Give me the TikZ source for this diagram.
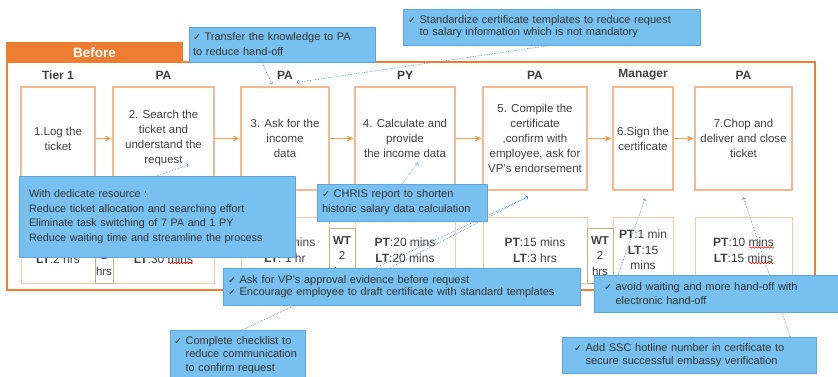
\documentclass[tikz,border=0pt]{standalone}
\usepackage{fontspec}
\setmainfont{Liberation Sans}
\newfontfamily\notefont{Liberation Sans}[WordSpace=2.0]
\newfontfamily\symfont{DejaVu Sans}
\usepackage{tikz}
\usetikzlibrary{arrows,backgrounds,decorations.pathmorphing}

\definecolor{orangeline}{RGB}{237,125,49}
\definecolor{arrowline}{RGB}{243,160,90}
\definecolor{boxline}{RGB}{245,185,145}
\definecolor{timeline}{RGB}{248,203,173}
\definecolor{waitline}{RGB}{205,175,135}
\definecolor{notefill}{RGB}{120,192,240}
\definecolor{noteline}{RGB}{95,165,220}
\definecolor{hintline}{RGB}{60,125,185}
\definecolor{inkgray}{RGB}{64,64,64}

\newcommand{\chk}{{\symfont\fontsize{9.5}{9.5}\selectfont ✓}\ }
\newcommand{\ind}{\phantom{\chk}}

\begin{document}
\begin{tikzpicture}[x=1pt,y=1pt,>=stealth',node distance=63.5pt,
                    every node/.style={text=inkgray}]
  \tikzstyle{stage}=[draw=boxline,line width=1.4pt,align=center,minimum height=103pt,
                     inner sep=1pt,font=\fontsize{11.5}{15}\selectfont]
  \tikzstyle{role}=[font=\bfseries\fontsize{12}{14}\selectfont]
  \tikzstyle{timing}=[draw=timeline,line width=0.8pt,align=center,minimum height=66pt,
                      inner sep=1pt,font=\fontsize{12}{15.5}\selectfont]
  \tikzstyle{wait}=[draw=waitline,fill=white,line width=0.6pt,align=center,minimum height=55pt,
                    inner sep=0pt,font=\fontsize{11.5}{15.5}\selectfont]
  \tikzstyle{note}=[fill=notefill,draw=noteline,line width=0.4pt,align=left,inner xsep=8pt,
                    inner ysep=2pt,text=black!80]
  \tikzstyle{flow}=[->,draw=arrowline,line width=1.1pt,shorten >=1pt]
  \tikzstyle{hint}=[->,>=to,draw=hintline,densely dotted,semithick]
  \tikzstyle{typo}=[draw=red,line width=0.5pt,decorate,decoration={snake,amplitude=0.7pt,segment length=3pt}]

  \useasboundingbox (0,0) rectangle (838,-377);

  \draw[draw=orangeline,line width=2.5pt] (7,-62) rectangle (815,-290);
  \node[fill=orangeline,text=white,minimum width=177pt,minimum height=21pt,
        font=\bfseries\fontsize{13.5}{15}\selectfont] (Before) at (94.5,-52.5) {Before};

  \node[stage,minimum width=74pt]  (S1) at (58,-138.5)    {1.Log the\\ticket};
  \node[stage,minimum width=101pt] (S2) at (163.5,-138.5) {2. Search the\\ticket and\\understand the\\request};
  \node[stage,minimum width=88pt]  (S3) at (285,-138.5)   {3. Ask for the\\income\\data};
  \node[stage,minimum width=100pt] (S4) at (405,-138.5)   {4. Calculate and\\provide\\the income data};
  \node[stage,minimum width=104pt] (S5) at (535,-138.5)   {5. Compile the\\certificate\\,confirm with\\employee, ask for\\VP's endorsement};
  \node[stage,minimum width=60pt]  (S6) at (643,-138.5)   {6.Sign the\\certificate};
  \node[stage,minimum width=97pt]  (S7) at (743.5,-138.5) {7.Chop and\\deliver and close\\ticket};

  \node[role] (R1) [above of=S1] {Tier 1};
  \node[role] (R2) [above of=S2] {PA};
  \node[role] (R3) [above of=S3] {PA};
  \node[role] (R4) [above of=S4] {PY};
  \node[role] (R5) [above of=S5] {PA};
  \node[role] (R6) [above of=S6] {Manager};
  \node[role] (R7) [above of=S7] {PA};

  \node[timing,minimum width=74pt,node distance=111.5pt]  (T1) [below of=S1] {\strut\\\textbf{LT}:2 hrs};
  \node[timing,minimum width=101pt,node distance=111.5pt] (T2) [below of=S2] {\strut\\\textbf{LT}:30 mins};
  \node[timing,minimum width=88pt,node distance=111.5pt]  (T3) [below of=S3] {\textbf{PT}:30 mins\\\textbf{LT}: 1 hr};
  \node[timing,minimum width=100pt,node distance=111.5pt] (T4) [below of=S4] {\textbf{PT}:20 mins\\\textbf{LT}:20 mins};
  \node[timing,minimum width=104pt,node distance=111.5pt] (T5) [below of=S5] {\textbf{PT}:15 mins\\\textbf{LT}:3 hrs};
  \node[timing,minimum width=60pt,node distance=111.5pt]  (T6) [below of=S6] {\textbf{PT}:1 min\\\textbf{LT}:15\\mins};
  \node[timing,minimum width=97pt,node distance=111.5pt]  (T7) [below of=S7] {\textbf{PT}:10 mins\\\textbf{LT}:15 mins};

  \draw[typo] ([shift={(4.5pt,-13pt)}]T2.center) -- ++(25pt,0);
  \draw[typo] ([shift={(5.5pt,2.5pt)}]T7.center) -- ++(25pt,0);
  \draw[typo] ([shift={(5.5pt,-13pt)}]T7.center) -- ++(25pt,0);

  \node[wait,minimum width=18pt] (W1) at (104,-256) {\textbf{WT}\\2\\hrs};
  \node[wait,minimum width=26pt] (W2) at (342,-256) {\textbf{WT}\\2\\hrs};
  \node[wait,minimum width=26pt] (W3) at (600,-256) {\textbf{WT}\\2\\hrs};

  \path[flow] (S1) edge (S2)
              (S2) edge (S3)
              (S3) edge (S4)
              (S4) edge (S5)
              (S5) edge (S6)
              (S6) edge (S7);

  \node[note,text width=178pt,minimum height=35pt,font=\notefont\fontsize{11}{15}\selectfont,inner xsep=4pt]
    (transfer) at (282,-44.5) {\chk Transfer the knowledge to PA\\to reduce hand-off};
  \node[note,text width=287pt,minimum height=36pt,font=\notefont\fontsize{11}{12}\selectfont,inner xsep=5pt]
    (template) at (551.5,-27) {\chk Standardize certificate templates to reduce request\\\ind to salary information which is not mandatory};
  \node[note,text width=256pt,minimum height=81pt,font=\notefont\fontsize{10.8}{14.5}\selectfont,inner xsep=10pt]
    (dedicate) at (157,-216.5) {With dedicate resource :\\Reduce ticket allocation and searching effort\\Eliminate task switching of 7 PA and 1 PY\\Reduce waiting time and streamline the process};
  \node[note,text width=160pt,minimum height=37pt,font=\notefont\fontsize{11}{15}\selectfont,inner xsep=5pt]
    (chris) at (402,-202.5) {\chk CHRIS report to shorten\\historic salary data calculation};
  \node[note,text width=347pt,minimum height=37pt,font=\notefont\fontsize{11}{12}\selectfont,inner xsep=5pt]
    (approval) at (401.5,-286.5) {\chk Ask for VP's approval evidence before request\\\chk Encourage employee to draft certificate with standard templates};
  \node[note,text width=127pt,minimum height=50pt,font=\notefont\fontsize{11}{13.5}\selectfont,inner xsep=4pt]
    (checklist) at (237.5,-355) {\chk Complete checklist to\\\ind reduce communication\\\ind to confirm request};
  \node[note,text width=226pt,minimum height=37pt,font=\notefont\fontsize{11}{14.5}\selectfont,inner xsep=10pt]
    (electronic) at (717,-293.5) {\chk avoid waiting and more hand-off with\\\ind electronic hand-off};
  \node[note,text width=230pt,minimum height=36pt,font=\notefont\fontsize{11}{13}\selectfont,inner xsep=12pt]
    (hotline) at (689,-355) {\chk Add SSC hotline number in certificate to\\\ind secure successful embassy verification};

  \begin{scope}[on background layer]
    \path[hint] ([xshift=-20pt]transfer.south) edge ([shift={(-13pt,2pt)}]S3.north)
                (template.south) edge ([shift={(12pt,4pt)}]S3.north)
                (dedicate.north) edge ([shift={(25pt,26pt)}]S2.south)
                (chris.north) edge ([shift={(13pt,28pt)}]S4.south)
                ([xshift=-11pt]approval.north) edge ([shift={(-7pt,-6pt)}]S5.south)
                ([xshift=5pt]checklist.north) edge ([shift={(-7pt,-6pt)}]S5.south)
                ([shift={(22pt,-6pt)}]electronic.north west) edge ([shift={(2pt,-8pt)}]S6.south)
                ([xshift=-26pt]hotline.north east) edge ([yshift=-7pt]S7.south);
  \end{scope}
\end{tikzpicture}
\end{document}
